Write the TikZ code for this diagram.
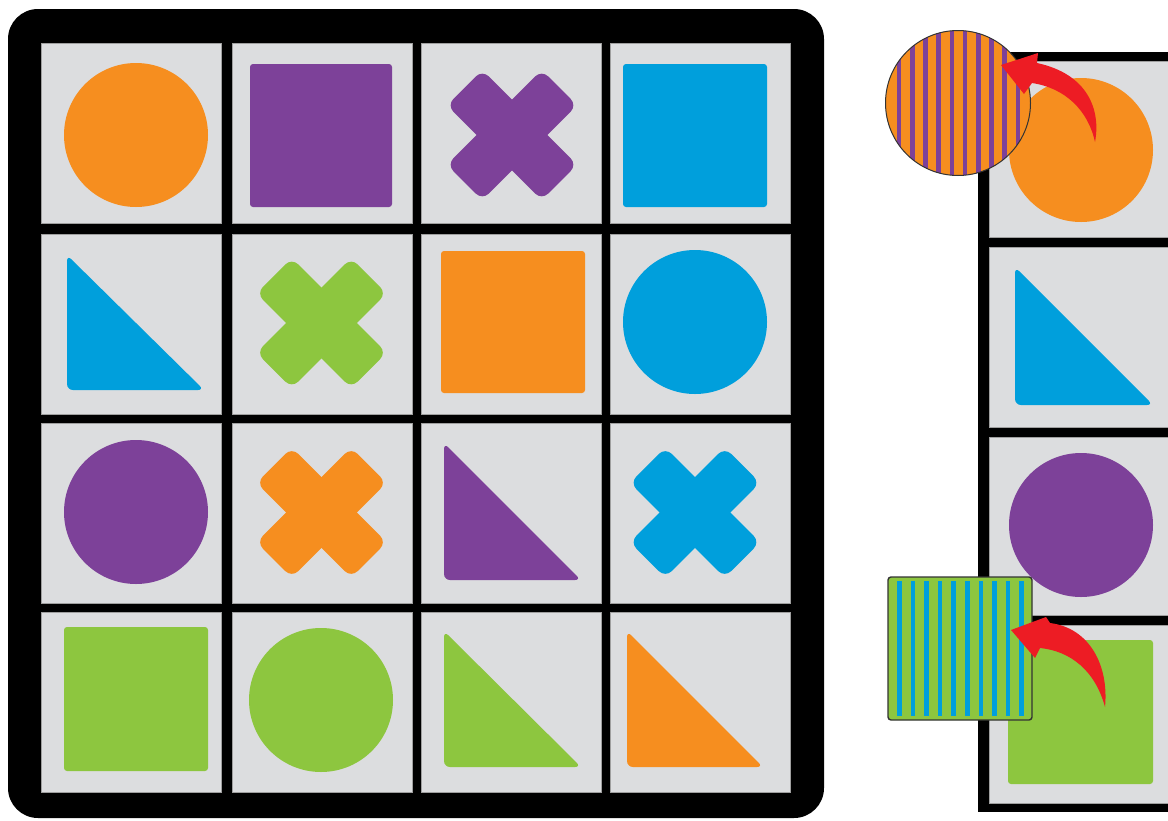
\documentclass[tikz,border=0pt]{standalone}
\definecolor{cOrange}{HTML}{F68E1F}
\definecolor{cPurple}{HTML}{7D4199}
\definecolor{cBlue}{HTML}{009FDC}
\definecolor{cGreen}{HTML}{8DC63F}
\definecolor{cGray}{HTML}{DCDDDF}
\definecolor{cRed}{HTML}{ED1C24}
\tikzset{
  cellbox/.style={fill=cGray, draw=gray!75, line width=0.8},
  sqshape/.style={rounded corners=3},
  trishape/.style={rounded corners=6},
}
\newcommand\crossmark[3]{%
  \fill[#3, rounded corners=9, rotate around={45:(#1,#2)}] (#1-67,#2-25) rectangle (#1+67,#2+25);
  \fill[#3, rounded corners=9, rotate around={-45:(#1,#2)}] (#1-67,#2-25) rectangle (#1+67,#2+25);
}
\newcommand\trimark[5]{%
  \fill[#5, trishape] (#1,#3) -- (#1,#4) -- (#2,#4) -- cycle;
}
\begin{document}
\begin{tikzpicture}[x=1pt,y=-1pt]
\useasboundingbox (0,0) rectangle (1168,820);
\clip (0,0) rectangle (1168,820);
% ---------- left board ----------
\fill[black, rounded corners=30] (8,9) rectangle (824,818);
\foreach \cx in {41,232,421,610} {
  \foreach \cy in {43,234,423,612} {
    \path[cellbox] (\cx,\cy) rectangle (\cx+180,\cy+180);
  }
}
% row 1
\fill[cOrange] (136,135) circle[radius=72];
\fill[cPurple, sqshape] (250,64) rectangle (392,207);
\crossmark{512}{135}{cPurple}
\fill[cBlue, sqshape] (623,64) rectangle (767,207);
% row 2
\trimark{67}{204}{255}{390}{cBlue}
\crossmark{321.5}{323}{cGreen}
\fill[cOrange, sqshape] (441,251) rectangle (585,393);
\fill[cBlue] (695,322) circle[radius=72];
% row 3
\fill[cPurple] (136,512) circle[radius=72];
\crossmark{321.5}{512.5}{cOrange}
\trimark{444}{581}{443}{580}{cPurple}
\crossmark{695}{512.5}{cBlue}
% row 4
\fill[cGreen, sqshape] (64,627) rectangle (208,771);
\fill[cGreen] (321,700) circle[radius=72];
\trimark{444}{581}{631}{767}{cGreen}
\trimark{627}{763}{631}{767}{cOrange}
% ---------- right board ----------
\fill[black] (978,52) rectangle (1200,812);
\path[cellbox] (989,61) rectangle (1200,237);
\path[cellbox] (989,247) rectangle (1200,427);
\path[cellbox] (989,437) rectangle (1200,615);
\path[cellbox] (989,625) rectangle (1200,803);
\fill[cOrange] (1081,150) circle[radius=72];
\trimark{1015}{1153}{267}{405}{cBlue}
\fill[cPurple] (1081,525) circle[radius=72];
\fill[cGreen, sqshape] (1008,640) rectangle (1153,784);
% ---------- striped circle ----------
\begin{scope}
  \clip (958,103) circle[radius=72.5];
  \fill[cOrange] (958,103) circle[radius=72.5];
  \foreach \i in {0,...,9} {
    \fill[cPurple] (899+13.2*\i-2.3,20) rectangle (899+13.2*\i+2.3,190);
  }
\end{scope}
\draw[black!80, line width=1] (958,103) circle[radius=72.5];
% ---------- striped square ----------
\fill[cGreen, rounded corners=3] (888,577) rectangle (1032,720);
\foreach \i in {0,...,9} {
  \fill[cBlue] (899.3+13.6*\i-2.3,581) rectangle (899.3+13.6*\i+2.3,716);
}
\draw[black!80, line width=1.4, rounded corners=3] (888,577) rectangle (1032,720);
% ---------- red arrows ----------
\fill[cRed] (1095,142) .. controls (1101,110) and (1088,74) .. (1037,63)
  -- (1038,53) -- (1001,65) -- (1024,94) -- (1032,83)
  .. controls (1065,88) and (1088,110) .. (1095,142) -- cycle;
\fill[cRed] (1105,707) .. controls (1109,666) and (1090,628) .. (1050,623)
  -- (1046,617) -- (1011,630) -- (1035,658) -- (1040,648)
  .. controls (1070,651) and (1095,670) .. (1105,707) -- cycle;
\end{tikzpicture}
\end{document}
